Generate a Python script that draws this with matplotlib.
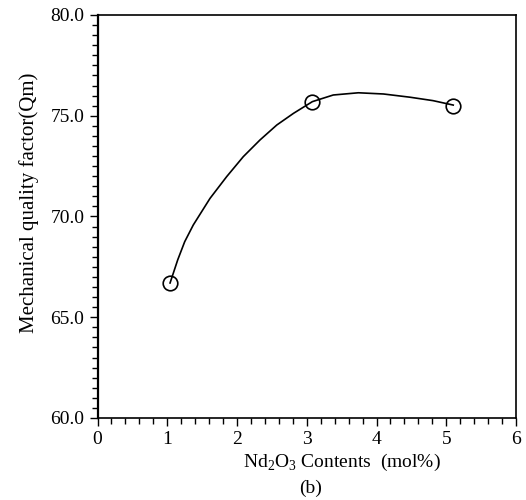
import matplotlib
matplotlib.use("Agg")
import matplotlib.pyplot as plt
from matplotlib.ticker import MultipleLocator, FormatStrFormatter

plt.rcParams['font.family'] = ['Liberation Serif', 'DejaVu Serif']
plt.rcParams['mathtext.fontset'] = 'custom'
plt.rcParams['mathtext.rm'] = 'Liberation Serif'

# measured points (Nd2O3 content, Qm)
content = [1.04, 3.08, 5.1]
qm = [66.7, 75.7, 75.5]

# smooth trend curve
curve_x = [1.04, 1.15, 1.25, 1.373, 1.613, 1.852, 2.09, 2.33, 2.57, 2.81, 3.08,
           3.38, 3.74, 4.10, 4.48, 4.81, 5.1]
curve_y = [66.7, 67.85, 68.75, 69.58, 70.9, 71.98, 72.97, 73.8, 74.54, 75.12, 75.7,
           76.03, 76.14, 76.08, 75.92, 75.75, 75.53]

fig = plt.figure(figsize=(5.26, 5.0), dpi=100)
ax = fig.add_axes([0.1854, 0.164, 0.7956, 0.806])

ax.plot(curve_x, curve_y, color='black', lw=1.2)
ax.plot(content, qm, 'o', ms=10.5, mfc='none', mec='black', mew=1.2)

ax.set_xlim(0, 6)
ax.set_ylim(60, 80)
ax.xaxis.set_major_locator(MultipleLocator(1))
ax.xaxis.set_minor_locator(MultipleLocator(0.2))
ax.yaxis.set_major_locator(MultipleLocator(5))
ax.yaxis.set_minor_locator(MultipleLocator(0.5))
ax.yaxis.set_major_formatter(FormatStrFormatter('%.1f'))

ax.tick_params(which='major', direction='out', length=6, width=1.0, labelsize=14, colors='black')
ax.tick_params(which='minor', direction='out', length=4, width=1.0)
ax.tick_params(axis='x', which='major', pad=3)
for s in ax.spines.values():
    s.set_linewidth(1.2)
ax.spines['left'].set_linewidth(1.6)

ax.set_ylabel('Mechanical quality factor(Qm)', fontsize=15)
ax.yaxis.set_label_coords(-0.14, 0.535)
fig.text(0.65, 0.076, r'Nd$_2$O$_3$ Contents  (mol%)', fontsize=14, ha='center', va='center')
fig.text(0.59, 0.024, '(b)', fontsize=14, ha='center', va='center')

fig.savefig('out.png', dpi=100)
